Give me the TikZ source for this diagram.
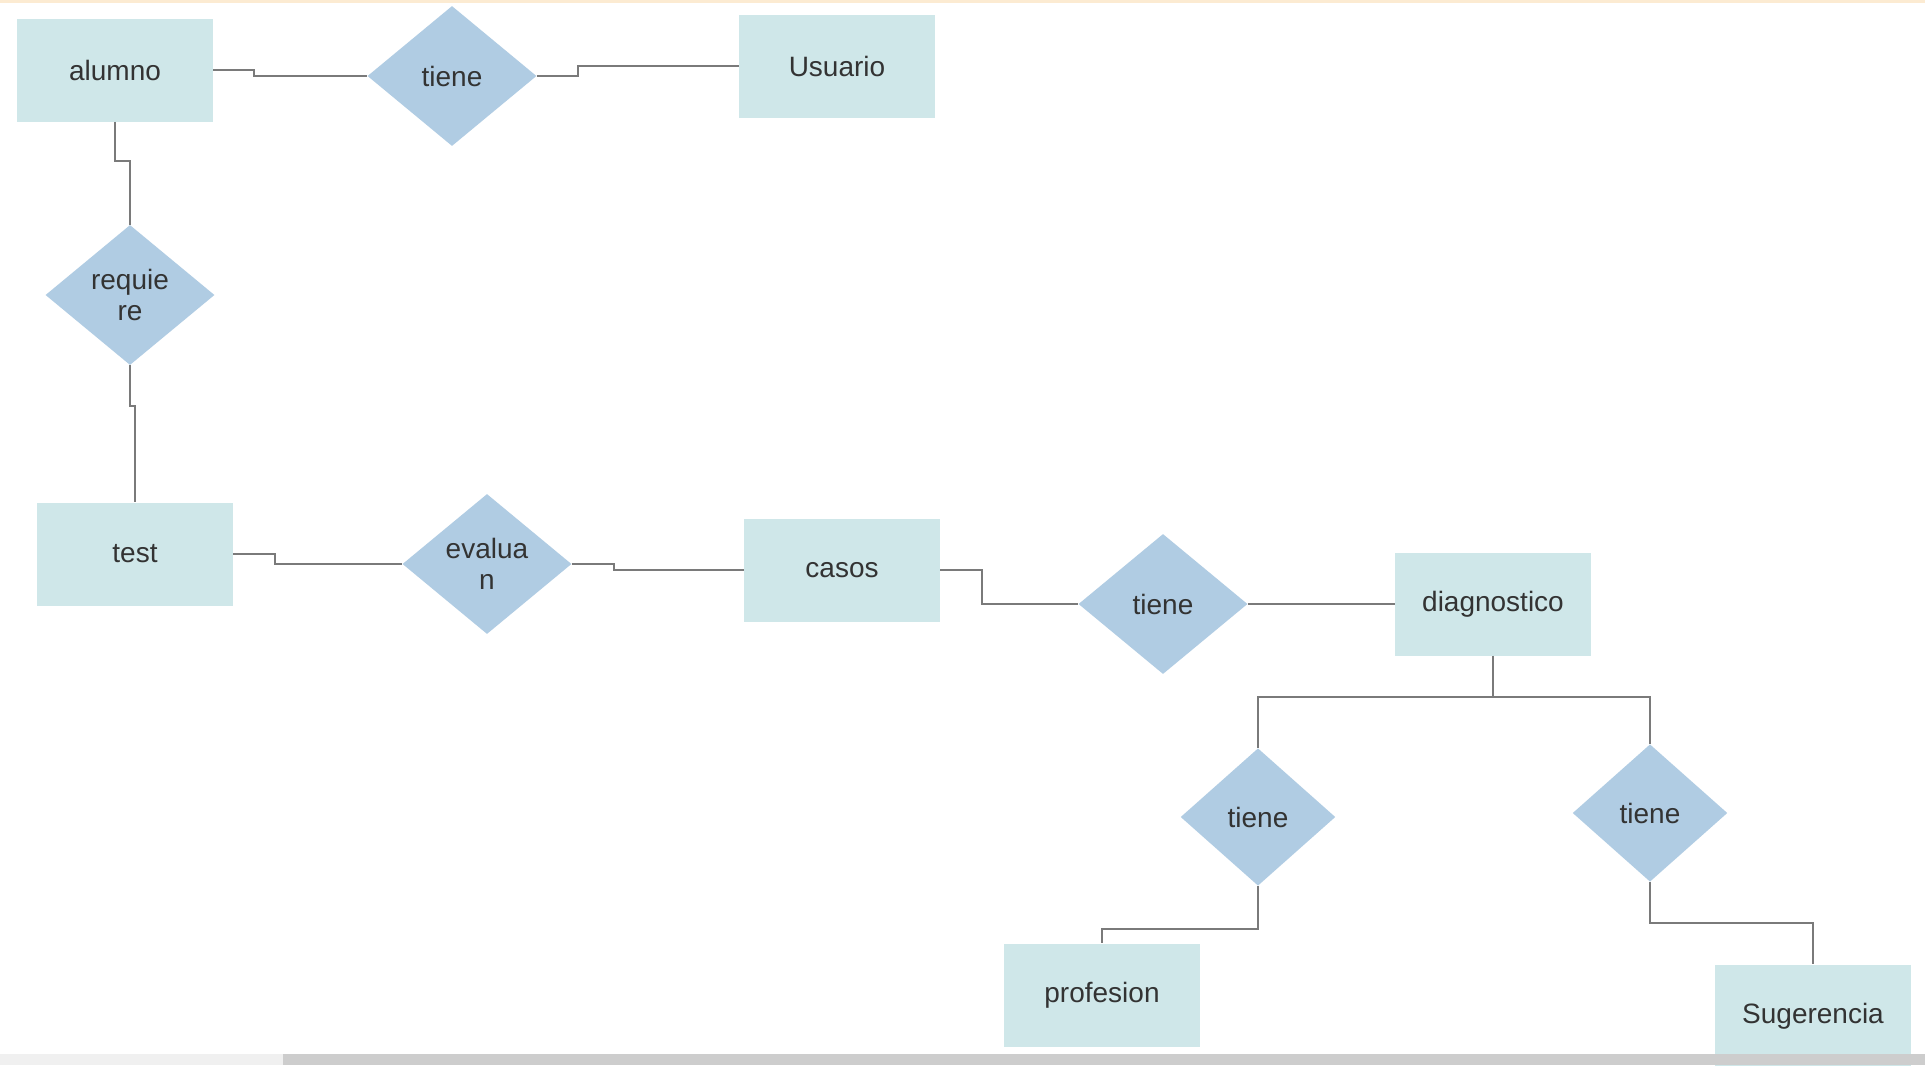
\documentclass[tikz,border=0pt]{standalone}
\usepackage{fontspec}
\setmainfont{Liberation Sans}
\usetikzlibrary{shapes.geometric}
\definecolor{boxc}{HTML}{CFE7E9}
\definecolor{relc}{HTML}{B0CCE3}
\definecolor{linec}{HTML}{7A7A7A}
\definecolor{txtc}{HTML}{333333}
\definecolor{topc}{HTML}{FCEBD2}
\definecolor{barlight}{HTML}{F0F0F0}
\definecolor{bardark}{HTML}{CDCDCD}
\begin{document}
\begin{tikzpicture}[x=0.75pt,y=-0.75pt,
  entity/.style={rectangle, fill=boxc, inner sep=0pt, minimum width=147pt, minimum height=77.25pt,
    text=txtc, font=\fontsize{21}{23}\selectfont},
  rel/.style={diamond, fill=relc, inner sep=0pt, minimum width=126.75pt, minimum height=105pt,
    align=center, text=txtc, font=\fontsize{21}{23}\selectfont},
  relsmall/.style={rel, minimum width=116pt, minimum height=103pt},
  link/.style={draw=linec, line width=1.5pt}]
  % page area
  \fill[white] (0,0) rectangle (1925,1065);
  \useasboundingbox (0,0) rectangle (1925,1065);
  \fill[topc] (0,0) rectangle (1925,3);

  % entities
  \node[entity] (alumno) at (115,70) {alumno};
  \node[entity] (usuario) at (837,66) {Usuario};
  \node[entity] (test) at (135,554) {test};
  \node[entity] (casos) at (842,570) {casos};
  \node[entity] (diag) at (1493,604) {diagnostico};
  \node[entity] (prof) at (1102,995) {profesion};
  \node[entity] (sug) at (1813,1016) {Sugerencia};

  % relationships
  \node[rel] (t1) at (452,76) {tiene};
  \node[rel] (req) at (130,295) {requie\\re};
  \node[rel] (ev) at (487,564) {evalua\\n};
  \node[rel] (t2) at (1163,604) {tiene};
  \node[relsmall] (t3) at (1258,817) {tiene};
  \node[relsmall] (t4) at (1650,813) {tiene};

  % connectors
  \draw[link] (alumno.east) -- ++(41,0) |- (t1.west);
  \draw[link] (t1.east) -- ++(41,0) |- (usuario.west);
  \draw[link] (alumno.south) -- ++(0,39) -| (req.north);
  \draw[link] (req.south) -- ++(0,41) -| (test.north);
  \draw[link] (test.east) -- ++(42,0) |- (ev.west);
  \draw[link] (ev.east) -- ++(42,0) |- (casos.west);
  \draw[link] (casos.east) -- ++(42,0) |- (t2.west);
  \draw[link] (t2.east) -- (diag.west);
  \draw[link] (diag.south) -- ++(0,41) -| (t3.north);
  \draw[link] (diag.south) -- ++(0,41) -| (t4.north);
  \draw[link] (t3.south) -- ++(0,43) -| (prof.north);
  \draw[link] (t4.south) -- ++(0,41) -| (sug.north);

  % horizontal scroll bar
  \fill[barlight] (0,1054) rectangle (283,1065);
  \fill[bardark] (283,1054) rectangle (1925,1065);
\end{tikzpicture}
\end{document}
